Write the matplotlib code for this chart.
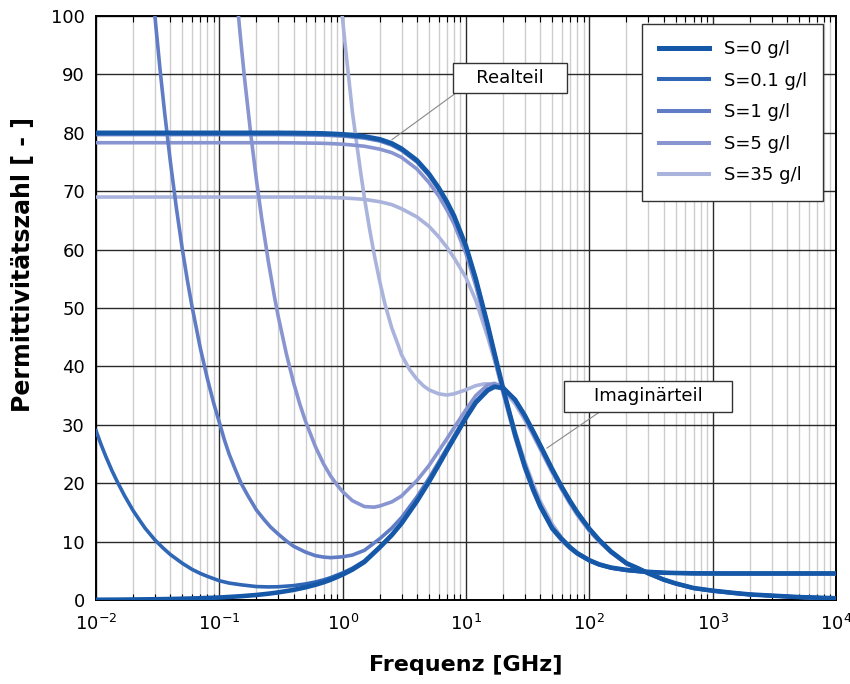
import numpy as np
import matplotlib.pyplot as plt
from matplotlib.ticker import FixedLocator, LogLocator, NullFormatter

# frequency grid [GHz] for the real parts and the S=0 imaginary part
freq = [0.01, 0.012, 0.015, 0.02, 0.025, 0.03, 0.035, 0.04, 0.05, 0.06, 0.07, 0.08,
        0.1, 0.12, 0.15, 0.2, 0.25, 0.3, 0.4, 0.5, 0.6, 0.7, 0.8,
        1, 1.2, 1.5, 2, 2.5, 3, 4, 5, 6, 7, 8,
        10, 12, 15, 17, 20, 25, 30, 35, 40, 50, 60, 70, 80,
        100, 120, 150, 200, 250, 300, 400, 500, 700,
        1000, 1500, 2000, 3000, 5000, 10000]

# real parts
real_s0 = [80.0, 80.0, 80.0, 80.0, 80.0, 80.0, 80.0, 80.0, 80.0, 80.0, 80.0, 80.0,
           80.0, 80.0, 80.0, 80.0, 80.0, 80.0, 79.98, 79.95, 79.93, 79.9, 79.85,
           79.75, 79.6, 79.4, 78.9, 78.2, 77.3, 75.3, 73.0, 70.6, 68.2, 65.8,
           60.6, 55.0, 47.1, 42.3, 36.2, 28.4, 22.9, 19.0, 16.1, 12.3, 10.4, 9.0, 8.0,
           6.8, 6.1, 5.55, 5.15, 4.95, 4.82, 4.68, 4.62, 4.57,
           4.55, 4.55, 4.55, 4.55, 4.55, 4.55]
real_s01 = [79.9, 79.9, 79.9, 79.9, 79.9, 79.9, 79.9, 79.9, 79.9, 79.9, 79.9, 79.9,
            79.9, 79.9, 79.9, 79.9, 79.9, 79.9, 79.88, 79.85, 79.83, 79.8, 79.75,
            79.65, 79.5, 79.3, 78.8, 78.1, 77.2, 75.2, 72.9, 70.5, 68.1, 65.7,
            60.5, 54.9, 47.0, 42.2, 36.1, 28.35, 22.85, 18.95, 16.05, 12.25, 10.35, 8.95, 7.98,
            6.78, 6.08, 5.53, 5.13, 4.93, 4.81, 4.67, 4.61, 4.56,
            4.55, 4.55, 4.55, 4.55, 4.55, 4.55]
real_s1 = [79.7, 79.7, 79.7, 79.7, 79.7, 79.7, 79.7, 79.7, 79.7, 79.7, 79.7, 79.7,
           79.7, 79.7, 79.7, 79.7, 79.7, 79.7, 79.68, 79.65, 79.63, 79.6, 79.55,
           79.45, 79.3, 79.1, 78.6, 77.9, 77.0, 75.0, 72.7, 70.3, 67.9, 65.5,
           60.4, 54.8, 46.9, 42.1, 36.0, 28.3, 22.8, 18.9, 16.0, 12.2, 10.3, 8.9, 7.95,
           6.75, 6.05, 5.5, 5.1, 4.9, 4.8, 4.65, 4.6, 4.55,
           4.52, 4.5, 4.5, 4.5, 4.5, 4.5]
real_s5 = [78.3, 78.3, 78.3, 78.3, 78.3, 78.3, 78.3, 78.3, 78.3, 78.3, 78.3, 78.3,
           78.3, 78.3, 78.3, 78.3, 78.3, 78.3, 78.28, 78.25, 78.23, 78.2, 78.15,
           78.05, 77.9, 77.7, 77.2, 76.6, 75.8, 73.8, 71.5, 69.2, 66.8, 64.4,
           59.3, 53.8, 46.0, 41.4, 35.4, 27.8, 22.4, 18.6, 15.8, 12.1, 10.1, 8.8, 7.85,
           6.7, 6.0, 5.45, 5.05, 4.88, 4.78, 4.65, 4.6, 4.55,
           4.52, 4.5, 4.5, 4.5, 4.5, 4.5]
real_s35 = [69.0, 69.0, 69.0, 69.0, 69.0, 69.0, 69.0, 69.0, 69.0, 69.0, 69.0, 69.0,
            69.0, 69.0, 69.0, 69.0, 69.0, 69.0, 69.0, 69.0, 68.98, 68.95, 68.92,
            68.85, 68.75, 68.6, 68.2, 67.7, 67.0, 65.6, 64.0, 62.2, 60.4, 58.6,
            55.2, 51.3, 45.0, 41.1, 35.9, 28.9, 23.7, 19.9, 16.9, 13.0, 10.6, 9.1, 8.1,
            6.9, 6.2, 5.57, 5.1, 4.9, 4.77, 4.65, 4.6, 4.54,
            4.52, 4.5, 4.5, 4.5, 4.5, 4.5]

# imaginary parts
imag_s0 = [0.04, 0.05, 0.06, 0.09, 0.11, 0.13, 0.15, 0.17, 0.22, 0.26, 0.30, 0.35,
           0.43, 0.52, 0.65, 0.86, 1.08, 1.30, 1.73, 2.17, 2.60, 3.03, 3.47,
           4.35, 5.2, 6.5, 9.0, 11.1, 13.1, 16.9, 20.2, 23.1, 25.6, 27.7,
           31.2, 33.8, 35.9, 36.5, 36.3, 34.3, 31.6, 28.9, 26.5, 22.4, 19.3, 16.9, 15.0,
           12.2, 10.3, 8.3, 6.3, 5.4, 4.6, 3.5, 2.85, 2.05,
           1.6, 1.2, 0.95, 0.75, 0.5, 0.3]

freq_s01 = [0.01, 0.011, 0.012, 0.0135, 0.015, 0.017, 0.02, 0.0225, 0.025, 0.03,
            0.035, 0.04, 0.05, 0.06, 0.07, 0.08,
            0.1, 0.12, 0.15, 0.2, 0.25, 0.3, 0.4, 0.5, 0.6, 0.7, 0.8,
            1, 1.2, 1.5, 2, 2.5, 3, 4, 5, 6, 7, 8,
            10, 12, 15, 17, 20, 25, 30, 35, 40, 50, 60, 70, 80,
            100, 120, 150, 200, 250, 300, 400, 500, 700,
            1000, 1500, 2000, 3000, 5000, 10000]
imag_s01 = [29.0, 26.6, 24.6, 22.1, 20.1, 17.9, 15.3, 13.7, 12.3, 10.3,
            8.9, 7.8, 6.3, 5.25, 4.55, 4.05,
            3.3, 2.9, 2.6, 2.3, 2.24, 2.27, 2.46, 2.75, 3.08, 3.44, 3.83,
            4.64, 5.44, 6.69, 9.15, 11.2, 13.2, 17.0, 20.26, 23.15, 25.64, 27.74,
            31.23, 33.82, 35.92, 36.5, 36.3, 34.3, 31.6, 28.9, 26.5, 22.4, 19.3, 16.9, 15.0,
            12.2, 10.3, 8.3, 6.3, 5.4, 4.6, 3.5, 2.85, 2.05,
            1.6, 1.2, 0.95, 0.75, 0.5, 0.3]

freq_s1 = [0.028, 0.03, 0.033, 0.036, 0.04, 0.045, 0.05, 0.055, 0.06, 0.07, 0.08, 0.09,
           0.1, 0.11, 0.12, 0.135, 0.15, 0.17, 0.2, 0.23, 0.26, 0.3, 0.35, 0.4,
           0.5, 0.6, 0.7, 0.8, 1, 1.2, 1.5, 2, 2.5, 3, 4, 5, 6, 7, 8,
           10, 12, 15, 17, 20, 25, 30, 35, 40, 50, 60, 70, 80,
           100, 120, 150, 200, 250, 300, 400, 500, 700,
           1000, 1500, 2000, 3000, 5000, 10000]
imag_s1 = [107.2, 100.1, 91.0, 83.5, 75.2, 66.9, 60.2, 54.8, 50.3, 43.2, 37.9, 33.7,
           30.4, 27.4, 25.0, 22.3, 20.0, 17.9, 15.4, 13.8, 12.5, 11.3, 10.1, 9.2,
           8.2, 7.6, 7.35, 7.25, 7.4, 7.7, 8.5, 10.5, 12.3, 14.1, 17.65, 20.8, 23.6, 26.0, 28.1,
           31.5, 34.05, 36.1, 36.7, 36.4, 34.3, 31.5, 28.8, 26.3, 22.2, 19.1, 16.7, 14.8,
           12.0, 10.2, 8.2, 6.25, 5.35, 4.55, 3.45, 2.8, 2.02,
           1.58, 1.18, 0.93, 0.73, 0.48, 0.3]

freq_s5 = [0.135, 0.14, 0.15, 0.16, 0.18, 0.2, 0.22, 0.25, 0.28, 0.3, 0.35, 0.4, 0.45,
           0.5, 0.6, 0.7, 0.8, 0.9, 1, 1.2, 1.5, 1.8, 2, 2.5, 3, 4, 5, 6, 7, 8,
           10, 12, 15, 17, 20, 25, 30, 35, 40, 50, 60, 70, 80,
           100, 120, 150, 200, 250, 300, 400, 500, 700,
           1000, 1500, 2000, 3000, 5000, 10000]
imag_s5 = [105.8, 102.0, 95.3, 89.4, 79.7, 71.9, 65.5, 57.9, 51.9, 48.6, 42.1, 37.2, 33.5,
           30.6, 26.3, 23.3, 21.2, 19.7, 18.55, 17.0, 16.0, 15.9, 16.1, 16.8, 17.8, 20.45,
           23.0, 25.5, 27.6, 29.5,
           32.6, 35.0, 36.85, 37.1, 36.5, 34.0, 31.2, 28.5, 26.0, 22.0, 19.0, 16.6, 14.7,
           11.95, 10.1, 8.15, 6.2, 5.3, 4.5, 3.45, 2.8, 2.0,
           1.55, 1.15, 0.92, 0.72, 0.48, 0.3]

freq_s35 = [0.96, 1, 1.05, 1.1, 1.2, 1.3, 1.4, 1.5, 1.65, 1.8, 2, 2.2, 2.5, 2.8, 3, 3.5,
            4, 4.5, 5, 6, 7, 8, 10, 12, 14, 15, 17, 20, 25, 30, 35, 40, 50, 60, 70, 80,
            100, 120, 150, 200, 250, 300, 400, 500, 700,
            1000, 1500, 2000, 3000, 5000, 10000]
imag_s35 = [103.2, 99.3, 94.9, 90.9, 83.5, 78.1, 73.2, 68.9, 63.6, 59.2, 54.5, 50.7,
            46.6, 43.8, 42.0, 39.4, 37.8, 36.7, 36.0, 35.3, 35.1, 35.3, 36.0, 36.7, 37.0,
            37.0, 36.8, 36.0, 33.6, 30.8, 28.2, 25.8, 21.8, 18.8, 16.4, 14.5,
            11.8, 10.0, 8.1, 6.2, 5.3, 4.5, 3.45, 2.8, 2.0,
            1.55, 1.15, 0.92, 0.72, 0.48, 0.3]

labels = ["S=0 g/l", "S=0.1 g/l", "S=1 g/l", "S=5 g/l", "S=35 g/l"]
colors = ["#1658a8", "#2f66b5", "#5f7cc4", "#8895d0", "#a9b3dc"]
widths = [3.3, 2.6, 2.6, 2.6, 2.6]

reals = [real_s0, real_s01, real_s1, real_s5, real_s35]
imags = [(freq, imag_s0), (freq_s01, imag_s01), (freq_s1, imag_s1),
         (freq_s5, imag_s5), (freq_s35, imag_s35)]

fig = plt.figure(figsize=(8.5, 6.84), dpi=100)
ax = fig.add_axes([96/850, 1-600/684, 740/850, 584/684])

for i in reversed(range(len(labels))):
    ax.plot(freq, reals[i], color=colors[i], lw=widths[i], zorder=3)
    ax.plot(imags[i][0], imags[i][1], color=colors[i], lw=widths[i], zorder=3)

handles = []
for i in range(len(labels)):
    h, = ax.plot([], [], color=colors[i], lw=widths[i] + 0.3, label=labels[i])
    handles.append(h)

ax.set_xscale('log')
ax.set_xlim(1e-2, 1e4)
ax.set_ylim(0, 100)
ax.set_yticks(np.arange(0, 101, 10))
ax.xaxis.set_major_locator(FixedLocator([1e-2, 1e-1, 1e0, 1e1, 1e2, 1e3, 1e4]))
ax.xaxis.set_minor_locator(LogLocator(base=10, subs=np.arange(2, 10), numticks=20))
ax.xaxis.set_minor_formatter(NullFormatter())

ax.grid(True, which='major', color='#2a2a2a', lw=1.0, zorder=1)
ax.grid(True, which='minor', axis='x', color='#cdcdcd', lw=1.0, zorder=0)
ax.set_axisbelow(True)

for s in ax.spines.values():
    s.set_color('black')
    s.set_linewidth(1.4)

ax.tick_params(axis='x', which='major', direction='in', length=0, labelsize=13, pad=10,
               top=True)
ax.tick_params(axis='x', which='minor', direction='in', length=4, width=0.8, top=True)
ax.tick_params(axis='y', which='major', direction='in', length=0, labelsize=13, pad=8)

ax.set_xlabel('Frequenz [GHz]', fontsize=16, fontweight='bold')
ax.set_ylabel('Permittivitätszahl [ - ]', fontsize=17, fontweight='bold')
ax.yaxis.set_label_coords(-0.082, 0.574)
ax.xaxis.set_label_coords(0.5, -0.095)

leg = ax.legend(handles=handles, loc='upper right', bbox_to_anchor=(0.9824, 0.9863),
                borderaxespad=0, fontsize=13, fancybox=False, framealpha=1,
                edgecolor='#333333', handlelength=2.8, handletextpad=0.8,
                labelspacing=0.75, borderpad=0.9)
leg.get_frame().set_linewidth(1.0)
leg.set_zorder(5)

box = dict(boxstyle='square,pad=0.35', fc='white', ec='#333333', lw=1.0)
ax.annotate('   Realteil   ', xy=(2.5, 78.8), xytext=(22.8, 89.4),
            fontsize=13, ha='center', va='center', bbox=box, zorder=6,
            arrowprops=dict(arrowstyle='-', color='#888888', lw=0.8,
                            relpos=(0.05, 0.0), shrinkA=0, shrinkB=0))
ax.annotate('    Imaginärteil    ', xy=(45.2, 26.0), xytext=(300, 34.9),
            fontsize=13, ha='center', va='center', bbox=box, zorder=6,
            arrowprops=dict(arrowstyle='-', color='#888888', lw=0.8,
                            relpos=(0.25, 0.0), shrinkA=0, shrinkB=0))

fig.savefig('out.png', dpi=100)
